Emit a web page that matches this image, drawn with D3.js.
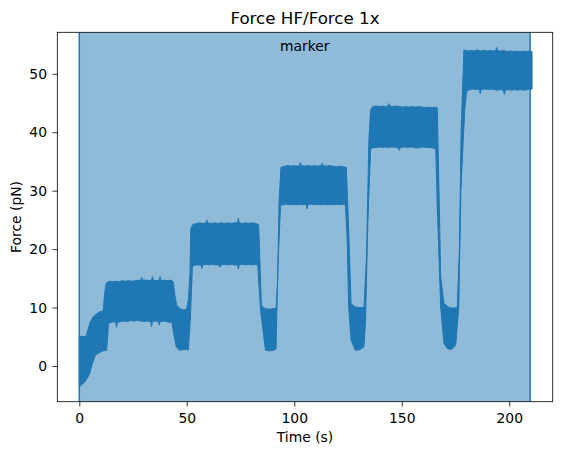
<!DOCTYPE html>
<html>
<head>
<meta charset="utf-8">
<script src="https://cdn.jsdelivr.net/npm/d3@7"></script>
<style>
  body { margin: 0; background: #fff; }
  svg text { font-family: "DejaVu Sans", sans-serif; fill: #000; }
</style>
</head>
<body>
<div id="chart"></div>
<script>
const width = 562;
const height = 455;

const title = 'Force HF/Force 1x';
const xLabel = 'Time (s)';
const yLabel = 'Force (pN)';
const markerLabel = 'marker';

const xTicks = [0, 50, 100, 150, 200];
const yTicks = [0, 10, 20, 30, 40, 50];

// shaded marker interval (s)
const markerSpan = [0, 209.7];

// top edge of the noisy force trace, [time s, force pN]
const upperEdge = [
  [0, 5.0], [1.5, 5.1], [3.0, 5.0], [4.0, 6.2], [5.0, 7.4], [6.4, 8.4], [8, 8.9], [9.5, 9.3], [11.1, 9.4],
  [11.8, 12.5], [12.5, 14.2],
  [13.9, 14.5], [15.5, 14.4], [17, 14.5], [18.5, 14.4], [20, 14.6], [21.5, 14.5], [23, 14.6], [24.5, 14.5],
  [26, 14.6], [27.5, 14.7], [28.6, 14.6], [29, 15.2], [29.4, 14.7], [31, 14.7], [32.5, 14.6], [33.6, 14.7],
  [34, 15.3], [34.4, 14.7], [36, 14.6], [37.2, 14.7], [37.6, 15.3], [38, 14.6], [39.5, 14.7], [41, 14.6],
  [42.5, 14.7], [43.7, 14.4],
  [44.5, 12.0], [45.3, 10.4], [47, 9.8], [48.5, 9.6], [49.9, 9.7], [50.8, 11.5], [51.5, 16], [51.8, 23.5],
  [52.8, 24.2], [54.5, 24.4], [56, 24.5], [57.5, 24.4], [59, 24.5], [59.3, 25.0], [59.7, 24.5], [61.5, 24.4],
  [63, 24.5], [64.5, 24.4], [66, 24.5], [67.5, 24.4], [69, 24.5], [70.5, 24.4], [72, 24.5], [73.6, 24.5],
  [74, 25.3], [74.4, 24.5], [76, 24.4], [77.5, 24.5], [79, 24.4], [80.5, 24.5], [82, 24.4], [83.4, 24.2],
  [84.1, 17], [84.7, 10.4], [86, 9.9], [88, 9.7], [90, 9.8], [91.6, 9.9], [92.3, 15], [92.9, 28],
  [93.8, 34.0], [95.5, 34.2], [97, 34.3], [98.5, 34.2], [100, 34.3], [101.5, 34.2], [102.4, 34.3],
  [102.8, 34.8], [103.2, 34.3], [105, 34.2], [106.5, 34.3], [108, 34.2], [109.5, 34.3], [111, 34.2],
  [112.6, 34.3], [113, 34.7], [113.4, 34.3], [115, 34.2], [116.5, 34.3], [118, 34.2], [119.5, 34.1],
  [121, 34.2], [122.5, 34.1], [124.2, 34.0],
  [125.3, 23.3], [126.4, 10.7], [128.4, 10.1], [130.5, 10.0], [132.4, 10.0], [133.6, 18.7], [134.7, 38.7],
  [135.5, 43.8], [136.5, 44.4], [138, 44.5], [139.5, 44.4], [141, 44.5], [142.5, 44.4], [143.6, 44.5],
  [144, 44.9], [144.4, 44.5], [146, 44.4], [147.5, 44.5], [149, 44.4], [150.5, 44.3], [152, 44.4],
  [153.5, 44.3], [155, 44.4], [156.5, 44.3], [158, 44.4], [159.5, 44.3], [161, 44.2], [162.5, 44.3],
  [164, 44.2], [165.5, 44.3], [166.5, 44.2],
  [167.3, 30.1], [168.1, 15.3], [169.6, 10.7], [172, 10.0], [174, 9.9], [175.8, 10.0], [176.8, 20],
  [177.6, 40], [178.9, 54.1], [180.5, 53.9], [182, 54.0], [183.5, 53.9], [185, 54.1], [186.5, 53.9],
  [188, 54.0], [189.5, 53.9], [191, 54.0], [192.5, 53.9], [193.7, 54.0], [194.1, 54.5], [194.5, 54.0],
  [196, 53.9], [197.5, 54.0], [199, 53.8], [200.5, 53.9], [202, 53.8], [203.5, 53.9], [205, 53.8],
  [206.5, 53.9], [208, 53.8], [209.5, 53.9], [210.6, 53.8]
];

// bottom edge of the noisy force trace, [time s, force pN]
const lowerEdge = [
  [0, -3.5], [1.0, -3.25], [2.6, -2.7], [4.0, -1.9], [4.9, -1.2], [6.0, 0.3], [7.2, 1.6], [8.0, 2.0],
  [9.5, 2.3], [11.1, 2.6], [12.7, 2.7], [13.2, 5.0],
  [13.6, 7.3], [15, 7.5], [16.9, 7.6], [17.3, 6.6], [17.7, 7.5], [19.5, 7.6], [21, 7.7], [22.5, 7.6],
  [24, 7.8], [25.5, 7.7], [27, 7.8], [28.5, 7.7], [30, 7.6], [31.5, 7.7], [33.2, 7.6], [33.6, 6.7],
  [34, 7.6], [35.5, 7.7], [36.8, 7.6], [37.2, 7.0], [37.6, 7.6], [39, 7.7], [40.5, 7.6], [42, 7.5],
  [43.0, 7.5],
  [44.2, 5.0], [45.1, 3.3], [46.6, 2.7], [48.5, 2.8], [50.0, 2.85], [50.7, 2.7], [51.7, 8.4], [52.6, 17.0],
  [53.5, 17.2], [55, 17.3], [56.6, 17.3], [57, 16.7], [57.4, 17.3], [59, 17.4], [60.5, 17.3], [62, 17.4],
  [63.5, 17.3], [65.1, 17.3], [65.5, 16.9], [65.9, 17.3], [67.5, 17.4], [69, 17.3], [70.5, 17.4],
  [72, 17.3], [73.6, 17.3], [74, 16.6], [74.4, 17.3], [76, 17.4], [77.5, 17.3], [79, 17.4], [80.5, 17.3],
  [82, 17.4], [83.0, 17.3],
  [84.3, 9.6], [86.6, 2.7], [88.5, 2.6], [90.5, 2.7], [91.5, 2.9], [92.4, 17.0],
  [93.6, 27.5], [95, 27.6], [96.5, 27.7], [98, 27.6], [99.5, 27.7], [101, 27.6], [102.5, 27.7],
  [104, 27.6], [105.5, 27.7], [105.9, 26.9], [106.3, 27.6], [108, 27.7], [109.5, 27.6], [111, 27.7],
  [112.5, 27.6], [114, 27.7], [115.5, 27.6], [117, 27.7], [118.5, 27.6], [120, 27.7], [121.5, 27.6],
  [123, 27.7], [123.8, 27.7],
  [124.6, 21.6], [125.3, 10.1], [126.4, 4.4], [128.4, 2.7], [130.5, 2.8], [132.4, 3.3], [133.1, 7.3],
  [134.2, 24.4], [135.5, 37.0],
  [136.3, 37.3], [138, 37.4], [139.5, 37.5], [141, 37.4], [142.5, 37.5], [144, 37.4], [145.5, 37.5],
  [147, 37.4], [148.5, 37.3], [148.9, 36.9], [149.3, 37.4], [151, 37.5], [152.5, 37.4], [154, 37.5],
  [155.5, 37.4], [157, 37.3], [158.5, 37.4], [160, 37.5], [161.5, 37.4], [163, 37.4], [164.5, 37.3],
  [165.8, 37.2],
  [166.5, 27.3], [168.1, 10.1], [169.6, 3.9], [171.2, 3.0], [173, 2.8], [175.1, 3.6], [176.5, 10],
  [177.5, 30], [178.5, 38], [179.3, 44],
  [180.2, 47.0], [181.5, 47.3], [183, 47.4], [184.5, 47.3], [186.1, 47.4], [186.5, 46.6], [186.9, 47.3],
  [188.5, 47.4], [190, 47.3], [191.5, 47.4], [193, 47.3], [194.5, 47.2], [196, 47.3], [197.3, 47.2],
  [197.7, 46.5], [198.1, 47.2], [199.5, 47.3], [201, 47.2], [202.5, 47.3], [204, 47.2], [205.5, 47.3],
  [207, 47.2], [208.5, 47.3], [210.6, 47.4]
];

const margin = { top: 32.3, right: 9.3, bottom: 53.3, left: 57.3 };
const plotW = width - margin.left - margin.right;
const plotH = height - margin.top - margin.bottom;
const blue = '#1f77b4';

const svg = d3.select('#chart')
  .append('svg')
  .attr('width', width)
  .attr('height', height);

const x = d3.scaleLinear().domain([-10.23, 220.2]).range([0, plotW]);
const y = d3.scaleLinear().domain([-6.11, 57.11]).range([plotH, 0]);

const g = svg.append('g')
  .attr('transform', `translate(${margin.left},${margin.top})`);

// marker span
g.append('rect')
  .attr('x', x(markerSpan[0]))
  .attr('y', 0)
  .attr('width', x(markerSpan[1]) - x(markerSpan[0]))
  .attr('height', plotH)
  .attr('fill', blue)
  .attr('fill-opacity', 0.5);

// force band: top edge forward, bottom edge back
const outline = upperEdge.concat(lowerEdge.slice().reverse());
const line = d3.line()
  .x((d) => x(d[0]))
  .y((d) => y(d[1]));

g.append('path')
  .attr('d', line(outline) + 'Z')
  .attr('fill', blue)
  .attr('stroke', blue)
  .attr('stroke-width', 1)
  .attr('stroke-linejoin', 'round');

g.selectAll('.span-edge')
  .data(markerSpan)
  .enter()
  .append('line')
  .attr('class', 'span-edge')
  .attr('x1', (d) => x(d))
  .attr('x2', (d) => x(d))
  .attr('y1', 0)
  .attr('y2', plotH)
  .attr('stroke', blue)
  .attr('stroke-width', 1.5);

g.append('text')
  .attr('x', x((markerSpan[0] + markerSpan[1]) / 2))
  .attr('y', 18.7)
  .attr('text-anchor', 'middle')
  .style('font-size', '13.9px')
  .text(markerLabel);

// axes
const xAxis = g.append('g')
  .attr('transform', `translate(0,${plotH})`)
  .call(d3.axisBottom(x).tickValues(xTicks).tickSize(4.9).tickPadding(7).tickSizeOuter(0));

const yAxis = g.append('g')
  .call(d3.axisLeft(y).tickValues(yTicks).tickSize(4.9).tickPadding(5.4).tickSizeOuter(0));

[xAxis, yAxis].forEach((a) => {
  a.select('.domain').remove();
  a.selectAll('line').attr('stroke', '#000').attr('stroke-width', 0.8);
  a.selectAll('text')
    .style('font-family', '"DejaVu Sans", sans-serif')
    .style('font-size', '13.9px')
    .attr('fill', '#000');
});

g.append('rect')
  .attr('width', plotW)
  .attr('height', plotH)
  .attr('fill', 'none')
  .attr('stroke', '#000')
  .attr('stroke-width', 0.8);

svg.append('text')
  .attr('x', margin.left + plotW / 2)
  .attr('y', 23.6)
  .attr('text-anchor', 'middle')
  .style('font-size', '16.7px')
  .text(title);

svg.append('text')
  .attr('x', margin.left + plotW / 2)
  .attr('y', 442)
  .attr('text-anchor', 'middle')
  .style('font-size', '13.9px')
  .text(xLabel);

svg.append('text')
  .attr('transform', `translate(20.8,${margin.top + plotH / 2}) rotate(-90)`)
  .attr('text-anchor', 'middle')
  .style('font-size', '13.9px')
  .text(yLabel);
</script>
</body>
</html>
